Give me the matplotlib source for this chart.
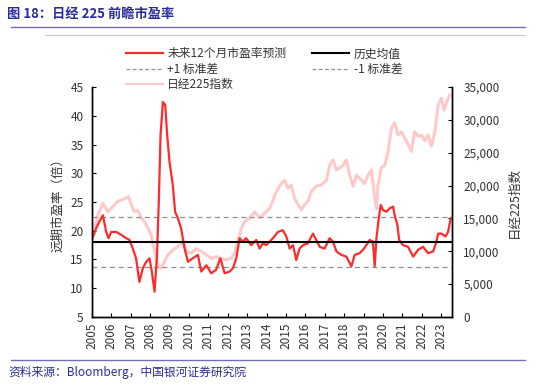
import matplotlib
matplotlib.use("Agg")
import matplotlib.pyplot as plt
from matplotlib.lines import Line2D
from matplotlib.ticker import FuncFormatter

plt.rcParams['font.family'] = ['Noto Sans CJK SC', 'DejaVu Sans']

# ── data (decimal years) ─────────────────────────────────────────────────────
pe_years = [2005.00, 2005.22, 2005.39, 2005.57, 2005.74, 2005.86, 2006.00, 2006.26,
            2006.51, 2006.77, 2006.94, 2007.11, 2007.28, 2007.45, 2007.63, 2007.80,
            2007.97, 2008.09, 2008.23, 2008.35, 2008.45, 2008.54, 2008.66, 2008.78,
            2008.88, 2009.00, 2009.17, 2009.29, 2009.43, 2009.60, 2009.78, 2009.95,
            2010.20, 2010.46, 2010.64, 2010.90, 2011.15, 2011.40, 2011.62, 2011.84,
            2012.10, 2012.27, 2012.44, 2012.61, 2012.78, 2012.95, 2013.21, 2013.47,
            2013.64, 2013.81, 2013.98, 2014.33, 2014.59, 2014.84, 2015.02, 2015.19,
            2015.36, 2015.53, 2015.70, 2015.88, 2016.13, 2016.39, 2016.56, 2016.74,
            2016.99, 2017.25, 2017.42, 2017.60, 2017.85, 2018.11, 2018.37, 2018.54,
            2018.80, 2018.97, 2019.14, 2019.31, 2019.48, 2019.57, 2019.66, 2019.78,
            2019.88, 2020.00, 2020.17, 2020.34, 2020.52, 2020.60, 2020.74, 2020.83,
            2021.03, 2021.29, 2021.55, 2021.81, 2022.06, 2022.32, 2022.58, 2022.75,
            2022.84, 2023.01, 2023.22, 2023.35, 2023.49]
pe_fwd = [18.4, 20.4, 21.6, 22.7, 19.8, 18.7, 19.8, 19.8,
          19.3, 18.7, 18.4, 16.9, 15.2, 11.1, 13.5, 14.6,
          15.2, 12.9, 9.4, 15.2, 25.1, 36.7, 42.4, 41.9,
          36.7, 32.0, 28.0, 23.3, 22.2, 20.4, 16.9, 14.6,
          15.2, 15.8, 12.9, 14.0, 12.6, 13.2, 15.2, 12.6,
          12.9, 13.5, 15.2, 18.7, 18.1, 18.7, 17.5, 18.4,
          16.9, 17.8, 17.5, 18.7, 19.8, 20.1, 19.0, 16.9,
          17.5, 14.9, 16.9, 17.5, 17.8, 19.5, 18.4, 17.2,
          16.9, 18.7, 18.1, 16.4, 15.8, 15.5, 13.8, 15.8,
          16.1, 16.7, 17.5, 18.4, 18.1, 13.8, 18.7, 22.2,
          24.5, 23.6, 23.3, 23.9, 24.2, 22.7, 21.0, 18.4,
          17.5, 17.2, 15.5, 16.7, 17.2, 16.1, 16.4, 18.1,
          19.5, 19.5, 19.0, 19.8, 22.2]

nk_years = [2005.00, 2005.31, 2005.57, 2005.83, 2006.08, 2006.34, 2006.68, 2006.89,
            2007.03, 2007.20, 2007.37, 2007.54, 2007.71, 2007.89, 2008.06, 2008.23,
            2008.40, 2008.57, 2008.74, 2008.92, 2009.17, 2009.43, 2009.69, 2009.86,
            2010.12, 2010.38, 2010.63, 2010.89, 2011.15, 2011.41, 2011.67, 2011.92,
            2012.18, 2012.35, 2012.53, 2012.70, 2012.87, 2013.13, 2013.39, 2013.64,
            2013.90, 2014.16, 2014.33, 2014.50, 2014.76, 2014.93, 2015.10, 2015.27,
            2015.45, 2015.62, 2015.79, 2015.96, 2016.13, 2016.31, 2016.56, 2016.82,
            2017.08, 2017.25, 2017.42, 2017.60, 2017.77, 2017.94, 2018.11, 2018.28,
            2018.46, 2018.63, 2018.80, 2019.05, 2019.23, 2019.40, 2019.57, 2019.66,
            2019.74, 2019.91, 2020.09, 2020.26, 2020.43, 2020.60, 2020.77, 2020.95,
            2021.12, 2021.29, 2021.46, 2021.63, 2021.81, 2021.98, 2022.15, 2022.32,
            2022.49, 2022.67, 2022.84, 2023.01, 2023.15, 2023.27, 2023.44]
nikkei = [12000, 15500, 17300, 16000, 16800, 17600, 18000, 18300,
          17100, 16000, 16200, 15100, 14500, 13500, 12500, 10000,
          7900, 7400, 8400, 9450, 10200, 10700, 11500, 10000,
          9700, 10400, 10000, 9500, 8900, 9200, 8900, 8700,
          8900, 9700, 11500, 13500, 14500, 15100, 16000, 15100,
          15800, 16500, 17800, 19100, 20300, 20800, 19600, 20100,
          18000, 17100, 16300, 17100, 17600, 19100, 19900, 20100,
          20800, 23100, 23900, 22400, 22700, 23100, 23900, 21600,
          19900, 21600, 21100, 20300, 21600, 22400, 18000, 16500,
          20100, 22700, 23100, 25200, 28700, 29600, 27700, 28200,
          27200, 26300, 25200, 28200, 27500, 27700, 26800, 27700,
          26000, 28200, 32300, 33300, 31500, 32700, 33800]

pe_mean = 18.1
pe_plus1 = 22.4
pe_minus1 = 13.7
year_ticks = list(range(2005, 2024))

C_RED = '#FF2A2A'
C_PINK = '#FFC9C9'
C_TXT = '#333333'
C_BLUE = '#2B2B9A'

fig = plt.figure(figsize=(5.37, 3.87), dpi=100)
ax = fig.add_axes([0.171, 0.181, 0.671, 0.594])
ax2 = ax.twinx()
ax.set_zorder(ax2.get_zorder() + 1)
ax.patch.set_visible(False)

ax2.plot(nk_years, nikkei, color=C_PINK, lw=2.2)
ax.axhline(pe_plus1, color='#909090', lw=0.9, ls=(0, (4, 3)))
ax.axhline(pe_minus1, color='#909090', lw=0.9, ls=(0, (4, 3)))
ax.plot(pe_years, pe_fwd, color=C_RED, lw=1.6)
ax.axhline(pe_mean, color='black', lw=1.5)

ax.set_xlim(2005, 2023.56)
ax.set_ylim(5, 45)
ax2.set_ylim(0, 35000)
ax.set_yticks(range(5, 46, 5))
ax2.set_yticks(range(0, 35001, 5000))
ax2.yaxis.set_major_formatter(FuncFormatter(lambda v, p: f'{int(v):,}'))
ax.set_xticks(year_ticks)
ax.set_xticklabels([str(y) for y in year_ticks], rotation=90)

for a in (ax, ax2):
    a.spines['top'].set_visible(False)
    for s in ('left', 'right', 'bottom'):
        a.spines[s].set_linewidth(1.0)
        a.spines[s].set_color('black')
    a.tick_params(direction='in', length=3, width=0.8, labelsize=8.5,
                  labelcolor=C_TXT, pad=4)
ax.tick_params(axis='y', pad=6)
ax2.tick_params(axis='y', pad=8)

ax.set_ylabel('远期市盈率（倍）', fontsize=9, color=C_TXT, labelpad=4)
ax2.set_ylabel('日经225指数', fontsize=9, color=C_TXT, labelpad=6)

# ── legend ───────────────────────────────────────────────────────────────────
handles = [
    Line2D([], [], color=C_RED, lw=1.6, label='未来12个月市盈率预测'),
    Line2D([], [], color='#909090', lw=0.9, ls=(0, (3, 2)), label='+1 标准差'),
    Line2D([], [], color=C_PINK, lw=1.6, label='日经225指数'),
    Line2D([], [], color='black', lw=1.5, label='历史均值'),
    Line2D([], [], color='#909090', lw=0.9, ls=(0, (3, 2)), label='-1 标准差'),
]
fig.legend(handles=handles, ncol=2, loc='upper left', bbox_to_anchor=(0.215, 0.905),
           frameon=False, fontsize=8.5, handlelength=3.1, handletextpad=0.4,
           columnspacing=2.2, labelspacing=0.2, labelcolor=C_TXT)

# ── title, rules and source ─────────────────────────────────────────────────
fig.text(0.013, 0.965, '图 18：日经 225 前瞻市盈率', fontsize=9.5, fontweight='bold',
         color=C_BLUE, va='center', ha='left')
fig.add_artist(Line2D([0.02, 0.978], [0.930, 0.930], color='#7070B8', lw=1.0))
fig.add_artist(Line2D([0.084, 0.978], [0.909, 0.909], color='#C8C8C8', lw=0.8))
fig.add_artist(Line2D([0.02, 0.978], [0.070, 0.070], color='#7070B8', lw=1.0))
fig.text(0.015, 0.038, '资料来源：Bloomberg，中国银河证券研究院', fontsize=8.5,
         color=C_BLUE, va='center', ha='left', style='italic')

fig.savefig('out.png', dpi=100)
